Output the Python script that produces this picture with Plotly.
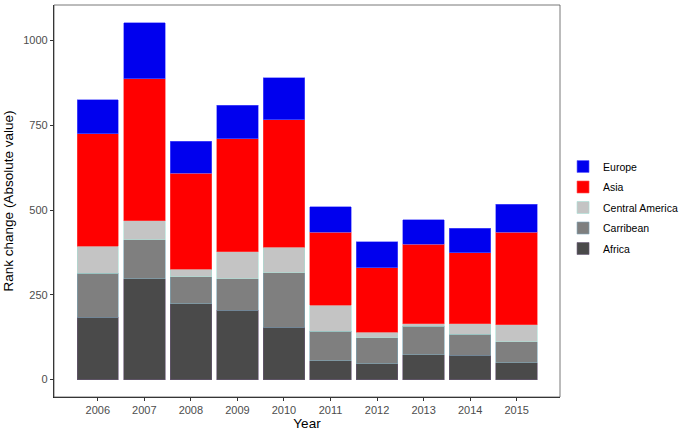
#!/usr/bin/env python3

"""
Stacked bar chart of rank change (absolute value) by region and year.
"""

import plotly.graph_objects as go

years = ["2006", "2007", "2008", "2009", "2010", "2011", "2012", "2013", "2014", "2015"]

africa = [184, 298, 223, 204, 154, 55, 47, 73, 72, 50]
carribean = [129, 114, 80, 93, 161, 87, 77, 84, 61, 62]
central_america = [80, 56, 23, 80, 76, 78, 15, 7, 31, 50]
asia = [332, 419, 283, 333, 375, 215, 191, 235, 210, 273]
europe = [100, 166, 94, 99, 124, 75, 77, 73, 72, 82]

y_ticks = [0, 250, 500, 750, 1000]


def main() -> None:
    # bottom to top, same as the stacking order
    series = [
        ("Africa", africa, "#4a4a4a", "#6a5a78"),
        ("Carribean", carribean, "#7f7f7f", "#7fa6b8"),
        ("Central America", central_america, "#c4c4c4", "#a8e0d6"),
        ("Asia", asia, "#ff0000", "#ff5050"),
        ("Europe", europe, "#0000ee", "#6060ff"),
    ]

    fig = go.Figure()
    for i, (name, vals, fill, edge) in enumerate(series):
        fig.add_trace(
            go.Bar(
                x=years,
                y=vals,
                name=name,
                legendgroup=name,
                legendrank=len(series) - i,  # top of the stack first in the legend
                marker=dict(color=fill, line=dict(color=edge, width=0.6)),
            )
        )

    font = "Liberation Sans, Arial, sans-serif"

    fig.update_layout(
        barmode="stack",
        bargap=0.11,
        width=686,
        height=431,
        margin=dict(l=54, r=126, t=5, b=34, autoexpand=False),
        plot_bgcolor="white",
        paper_bgcolor="white",
        font=dict(family=font, size=11, color="#4d4d4d"),
        legend=dict(
            traceorder="grouped",
            tracegroupgap=1.5,
            x=1.006,
            xanchor="left",
            y=0.625,
            yanchor="top",
            font=dict(family=font, size=10.5, color="black"),
            bgcolor="rgba(0,0,0,0)",
        ),
        # thin frame around the panel
        shapes=[
            dict(
                type="rect",
                xref="paper",
                yref="paper",
                x0=0,
                y0=0,
                x1=1,
                y1=1,
                line=dict(color="#555555", width=0.8),
            )
        ],
    )

    fig.update_xaxes(
        type="category",
        range=[-0.94, 9.93],
        automargin=False,
        showgrid=False,
        showline=True,
        linecolor="#222222",
        linewidth=1.2,
        ticks="outside",
        ticklen=3,
        tickcolor="#333333",
        tickfont=dict(size=11, color="#4d4d4d"),
        title=dict(text="Year", font=dict(size=13.5, color="black"), standoff=4),
    )
    fig.update_yaxes(
        range=[-51.4, 1105],
        tickvals=y_ticks,
        automargin=False,
        showgrid=False,
        zeroline=False,
        showline=True,
        linecolor="#222222",
        linewidth=1.2,
        ticks="outside",
        ticklen=3,
        tickcolor="#333333",
        tickfont=dict(size=11, color="#4d4d4d"),
        title=dict(
            text="Rank change (Absolute value)",
            font=dict(size=13.5, color="black"),
            standoff=6,
        ),
    )

    # the page body has a default 8px margin; drop it so the figure fills the window
    fig.write_html(
        "out.html",
        config={"displayModeBar": False},
        post_script="document.body.style.margin='0px';",
    )


if __name__ == "__main__":
    main()
